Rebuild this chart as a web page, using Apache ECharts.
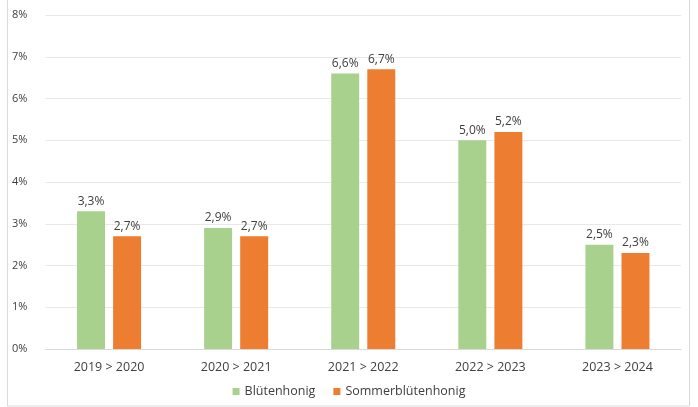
<!DOCTYPE html>
<html><head><meta charset="utf-8">
<script src="https://cdn.jsdelivr.net/npm/echarts@6/dist/echarts.min.js"></script>
<style>html,body{margin:0;padding:0;background:#fff}#c{width:698px;height:407px}</style>
</head><body><div id="c"></div>
<script>
const categories = ['2019 > 2020','2020 > 2021','2021 > 2022','2022 > 2023','2023 > 2024'];
const bluetenhonig = [3.3, 2.9, 6.6, 5.0, 2.5];
const sommerbluetenhonig = [2.7, 2.7, 6.7, 5.2, 2.3];
const seriesNames = ['Blütenhonig','Sommerblütenhonig'];
const fmt = v => v.toFixed(1).replace('.', ',') + '%';
const chart = echarts.init(document.getElementById('c'));
const lbl = {show:true, position:'top', distance:4, color:'#404040', fontSize:12, fontFamily:'Open Sans', formatter:p=>fmt(p.value)};
chart.setOption({
  animation:false,
  textStyle:{fontFamily:'Open Sans'},
  graphic:[{type:'rect', shape:{x:7.5,y:-2,width:682,height:408}, style:{fill:'none', stroke:'#d9d9d9', lineWidth:1}, silent:true}],
  grid:{left:45.5, right:17, top:15, bottom:58},
  legend:{bottom:4, left:'center', itemWidth:7, itemHeight:7, itemGap:18, icon:'rect',
    textStyle:{color:'#404040', fontSize:12.5}, data:seriesNames},
  xAxis:{type:'category', data:categories,
    axisLine:{lineStyle:{color:'#d9d9d9'}}, axisTick:{show:false},
    axisLabel:{color:'#404040', fontSize:12.5, margin:12}},
  yAxis:{type:'value', min:0, max:8, interval:1,
    axisLabel:{color:'#404040', fontSize:11, formatter:v=>v+'%', align:'left', margin:33.5},
    splitLine:{lineStyle:{color:'#e8e8e8'}}},
  series:[
    {name:seriesNames[0], type:'bar', data:bluetenhonig, barWidth:'22%', barGap:'29%', itemStyle:{color:'#A9D18E'}, label:lbl},
    {name:seriesNames[1], type:'bar', data:sommerbluetenhonig, barWidth:'22%', itemStyle:{color:'#ED7D31'}, label:lbl}
  ]
});
</script></body></html>
